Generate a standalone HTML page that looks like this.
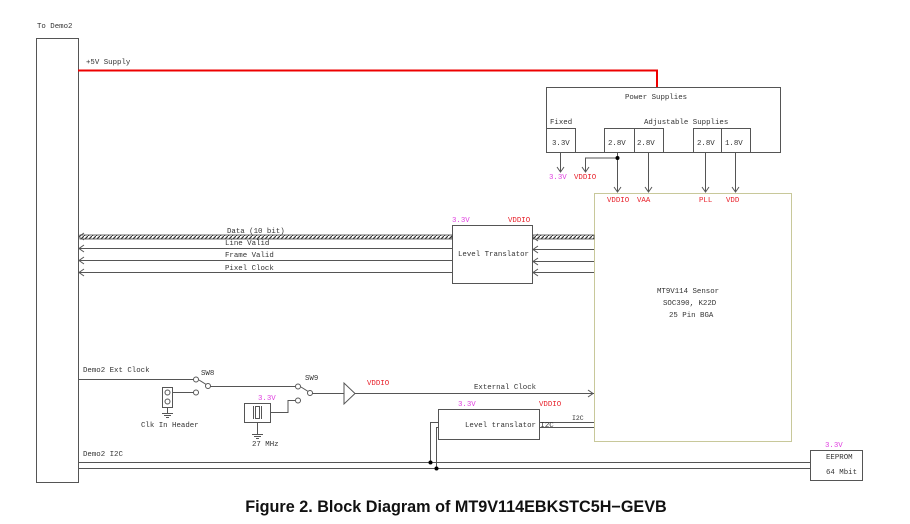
<!DOCTYPE html>
<html><head><meta charset="utf-8"><style>
html,body{margin:0;padding:0;background:#fff;}
svg{display:block;}
text{font-family:"Liberation Mono",monospace;font-size:7.4px;fill:#333;}
.m{fill:#e040e0}.r{fill:#e8202a}
</style></head><body>
<svg width="910" height="524" viewBox="0 0 910 524" xmlns="http://www.w3.org/2000/svg">
<defs>
<pattern id="hatch" width="4" height="4" patternUnits="userSpaceOnUse">
<rect width="4" height="4" fill="#fff"/>
<line x1="0" y1="4" x2="4" y2="0" stroke="#333" stroke-width="1.2"/>
</pattern>
</defs>
<g stroke="#555" stroke-width="1" fill="none">
<rect x="36.5" y="38.5" width="42" height="444"/>
<rect x="546.5" y="87.5" width="234" height="65"/>
<rect x="546.5" y="128.5" width="29" height="24"/>
<rect x="604.5" y="128.5" width="30" height="24"/>
<rect x="634.5" y="128.5" width="29" height="24"/>
<rect x="693.5" y="128.5" width="28" height="24"/>
<rect x="721.5" y="128.5" width="29" height="24"/>
<path d="M560.5 152v20M617.5 152v40M648.5 152v40M705.5 152v40M735.5 152v40M617.5 158H585.5v14"/>
<path d="M557 167l3.5 5 3.5-5M582 167l3.5 5 3.5-5M614 187l3.5 5 3.5-5M645 187l3.5 5 3.5-5M702 187l3.5 5 3.5-5M732 187l3.5 5 3.5-5"/>
<rect x="594.5" y="193.5" width="197" height="248" stroke="#c8c89a"/>
<rect x="452.5" y="225.5" width="80" height="58"/>
<path d="M78 248.5H452M78 260.5H452M78 272.5H452M532 249.5H594M532 261.5H594M532 272.5H594"/>
<path d="M84 245l-5 3.5 5 3.5M84 257l-5 3.5 5 3.5M84 269l-5 3.5 5 3.5M84 233l-5 3.5 5 3.5M538 234l-5 3.5 5 3.5M538 246l-5 3.5 5 3.5M538 258l-5 3.5 5 3.5M538 269l-5 3.5 5 3.5"/>
<path d="M78 379.5H194M210 386.5H295M312 393.5H344M355 393.5H594M172 392.5H194M270 412.5H288V400.5H295"/>
<path d="M199 380l8 5M301 387l8 5M588 390l5 3.5-5 3.5"/>
<path d="M344 383v21l11-10.5z" fill="#fff"/>
<rect x="162.5" y="387.5" width="10" height="20"/>
<path d="M167.5 407v6M162 413.5h11M164 415.5h7M166 417.5h3"/>
<rect x="244.5" y="403.5" width="26" height="19"/>
<path d="M257.5 422v12M252 434.5h11M254 436.5h7M256 438.5h3"/>
<rect x="255.5" y="406.5" width="4" height="12"/>
<path d="M253.5 406v13M261.5 406v13"/>
<rect x="438.5" y="409.5" width="101" height="30"/>
<path d="M78 462.5H810M78 468.5H810M438 422.5H430.5V462M438 427.5H436.5V468M539 422.5H594M539 427.5H594"/>
<rect x="810.5" y="450.5" width="52" height="30"/>
</g>
<g fill="#fff" stroke="#555">
<circle cx="196" cy="379.5" r="2.5"/><circle cx="208" cy="386" r="2.5"/><circle cx="196" cy="392.5" r="2.5"/>
<circle cx="298" cy="386.5" r="2.5"/><circle cx="310" cy="393" r="2.5"/><circle cx="298" cy="400.5" r="2.5"/>
<circle cx="167.5" cy="392.5" r="2.5"/><circle cx="167.5" cy="401.5" r="2.5"/>
</g>
<circle cx="617.5" cy="158" r="2" fill="#000"/>
<circle cx="430.5" cy="462.5" r="2" fill="#000"/>
<circle cx="436.5" cy="468.5" r="2" fill="#000"/>
<rect x="80" y="235" width="372" height="4" fill="url(#hatch)" stroke="#444" stroke-width="0.8"/>
<rect x="533" y="235" width="61" height="4" fill="url(#hatch)" stroke="#444" stroke-width="0.8"/>
<path d="M78 70.5H657V87" stroke="#e00" stroke-width="2" fill="none"/>
<text x="37" y="28">To Demo2</text>
<text x="86" y="64">+5V Supply</text>
<text x="625" y="99">Power Supplies</text>
<text x="550" y="124">Fixed</text>
<text x="644" y="124">Adjustable Supplies</text>
<text x="552" y="145">3.3V</text>
<text x="608" y="145">2.8V</text>
<text x="637" y="145">2.8V</text>
<text x="697" y="145">2.8V</text>
<text x="725" y="145">1.8V</text>
<text class="m" x="549" y="179">3.3V</text>
<text class="r" x="574" y="179">VDDIO</text>
<text class="r" x="607" y="202">VDDIO</text>
<text class="r" x="637" y="202">VAA</text>
<text class="r" x="699" y="202">PLL</text>
<text class="r" x="726" y="202">VDD</text>
<text class="m" x="452" y="222">3.3V</text>
<text class="r" x="508" y="222">VDDIO</text>
<text x="227" y="233">Data (10 bit)</text>
<text x="225" y="245">Line Valid</text>
<text x="225" y="257">Frame Valid</text>
<text x="225" y="270">Pixel Clock</text>
<text x="458" y="256">Level Translator</text>
<text x="657" y="293">MT9V114 Sensor</text>
<text x="663" y="305">SOC390, K22D</text>
<text x="669" y="317">25 Pin BGA</text>
<text x="83" y="372">Demo2 Ext Clock</text>
<text x="201" y="375">SW8</text>
<text x="305" y="380">SW9</text>
<text class="r" x="367" y="385">VDDIO</text>
<text x="474" y="389">External Clock</text>
<text x="141" y="427">Clk In Header</text>
<text class="m" x="258" y="400">3.3V</text>
<text x="252" y="446">27 MHz</text>
<text class="m" x="458" y="406">3.3V</text>
<text class="r" x="539" y="406">VDDIO</text>
<text x="465" y="427">Level translator I2C</text>
<text x="572" y="420" style="font-size:6.5px">I2C</text>
<text x="83" y="456">Demo2 I2C</text>
<text class="m" x="825" y="447">3.3V</text>
<text x="826" y="459">EEPROM</text>
<text x="826" y="474">64 Mbit</text>
<text x="456" y="512" text-anchor="middle" style="font-family:'Liberation Sans',sans-serif;font-size:16.2px;font-weight:bold;fill:#111">Figure 2. Block Diagram of MT9V114EBKSTC5H−GEVB</text>
</svg>
</body></html>
